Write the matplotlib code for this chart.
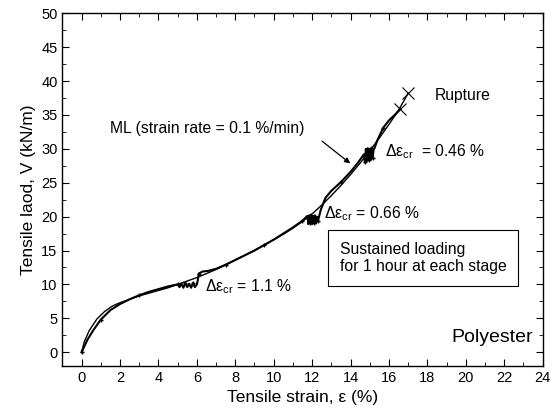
import matplotlib.pyplot as plt
from matplotlib.ticker import MultipleLocator

plt.rcParams['font.family'] = ['Liberation Sans', 'DejaVu Sans']
plt.rcParams['mathtext.default'] = 'regular'

# monotonic loading curve (strain rate 0.1 %/min)
ml_strain = [0, 0.15, 0.4, 0.8, 1.2, 1.6, 2.0, 2.5, 3.0, 3.5, 4.0, 4.5, 5.0, 5.5, 6.0,
             6.5, 7.0, 7.5, 8.0, 8.5, 9.0, 9.5, 10.0, 10.5, 11.0, 11.5, 12.0, 12.5,
             13.0, 13.5, 14.0, 14.5, 15.0, 15.5, 16.0, 16.5, 17.0]
ml_load = [0, 1.6, 3.2, 4.9, 6.0, 6.8, 7.3, 7.8, 8.3, 8.7, 9.1, 9.5, 10.0, 10.5, 11.0,
           11.6, 12.2, 12.9, 13.6, 14.3, 15.0, 15.8, 16.6, 17.4, 18.3, 19.3, 20.4, 21.7,
           23.1, 24.6, 26.2, 27.9, 29.7, 31.6, 33.6, 35.7, 38.2]

# sustained (stepped) loading curve, 1 hour creep at each stage
sl_strain = [0, 0.1, 0.3, 0.6, 1.0, 1.5, 2.0, 2.5, 3.0, 3.5, 4.0, 4.5, 5.0,
             5.1, 5.2, 5.3, 5.4, 5.5, 5.6, 5.7, 5.8, 5.9, 6.0, 6.05, 6.1, 6.3, 6.6,
             7.0, 7.5, 8.0, 8.5, 9.0, 9.5, 10.0, 10.5, 11.0, 11.5, 11.75, 11.8, 11.85,
             11.9, 11.95, 12.0, 12.05, 12.1, 12.15, 12.2, 12.25, 12.3, 12.45, 12.7,
             13.0, 13.5, 14.0, 14.4, 14.7, 14.75, 14.8, 14.85, 14.9, 14.95, 15.0,
             15.05, 15.1, 15.15, 15.2, 15.25, 15.4, 15.7, 16.0, 16.3, 16.6]
sl_load = [0, 0.6, 1.8, 3.2, 4.8, 6.2, 7.1, 7.8, 8.4, 8.9, 9.3, 9.7, 10.0,
           9.6, 10.1, 9.5, 10.2, 9.6, 10.1, 9.5, 10.2, 9.6, 10.0, 10.6, 11.6, 11.9, 12.0,
           12.3, 12.9, 13.6, 14.3, 15.0, 15.8, 16.6, 17.5, 18.4, 19.4, 20.1, 18.9, 20.2,
           19.0, 20.3, 18.9, 20.1, 19.1, 20.2, 19.0, 20.0, 19.3, 21.0, 22.8,
           23.8, 25.1, 26.6, 28.0, 29.2, 28.0, 30.0, 28.2, 30.1, 28.3, 30.0,
           28.4, 30.2, 28.6, 29.9, 30.1, 31.3, 33.1, 34.2, 35.0, 35.9]

rupture_strain = [16.6, 17.0]
rupture_load = [35.9, 38.2]

fig, ax = plt.subplots(figsize=(5.52, 4.17), dpi=100)
fig.subplots_adjust(left=0.113, right=0.983, top=0.968, bottom=0.123)

ax.plot(ml_strain, ml_load, color='black', lw=1.0)
ax.plot(sl_strain, sl_load, color='black', lw=1.5, marker='+', ms=3, markevery=4)
ax.plot(rupture_strain, rupture_load, ls='none', marker='x', ms=9, mew=0.8, color='black')

ax.set_xlim(-1, 24)
ax.set_ylim(-2, 50)
ax.xaxis.set_major_locator(MultipleLocator(2))
ax.xaxis.set_minor_locator(MultipleLocator(1))
ax.yaxis.set_major_locator(MultipleLocator(5))
ax.yaxis.set_minor_locator(MultipleLocator(2.5))
ax.tick_params(which='both', direction='in', top=True, right=True, labelsize=10.5)
ax.tick_params(which='major', length=5)
ax.tick_params(which='minor', length=3)
for s in ax.spines.values():
    s.set_linewidth(1.0)

ax.set_xlabel('Tensile strain, ε (%)', fontsize=12.5)
ax.set_ylabel('Tensile laod, V (kN/m)', fontsize=12.5)

ax.text(1.5, 33.0, 'ML (strain rate = 0.1 %/min)', fontsize=11.3, va='center')
ax.annotate('', xy=(14.1, 27.6), xytext=(12.4, 31.4),
            arrowprops=dict(arrowstyle='-|>', color='black', lw=0.9, mutation_scale=8))
ax.text(18.4, 37.9, 'Rupture', fontsize=11.3, va='center')
ax.text(15.8, 29.6, r'$Δε_{cr}$  = 0.46 %', fontsize=11.3, va='center')
ax.text(12.6, 20.5, r'$Δε_{cr}$ = 0.66 %', fontsize=11.3, va='center')
ax.text(6.4, 9.6, r'$Δε_{cr}$ = 1.1 %', fontsize=11.3, va='center')
ax.text(13.45, 13.9, 'Sustained loading\nfor 1 hour at each stage', fontsize=11.3,
        va='center', linespacing=1.15,
        bbox=dict(boxstyle='square,pad=0.75', fc='white', ec='black', lw=0.8))
ax.text(23.5, 2.1, 'Polyester', fontsize=14, ha='right', va='center')

fig.savefig('out.png', dpi=100)
